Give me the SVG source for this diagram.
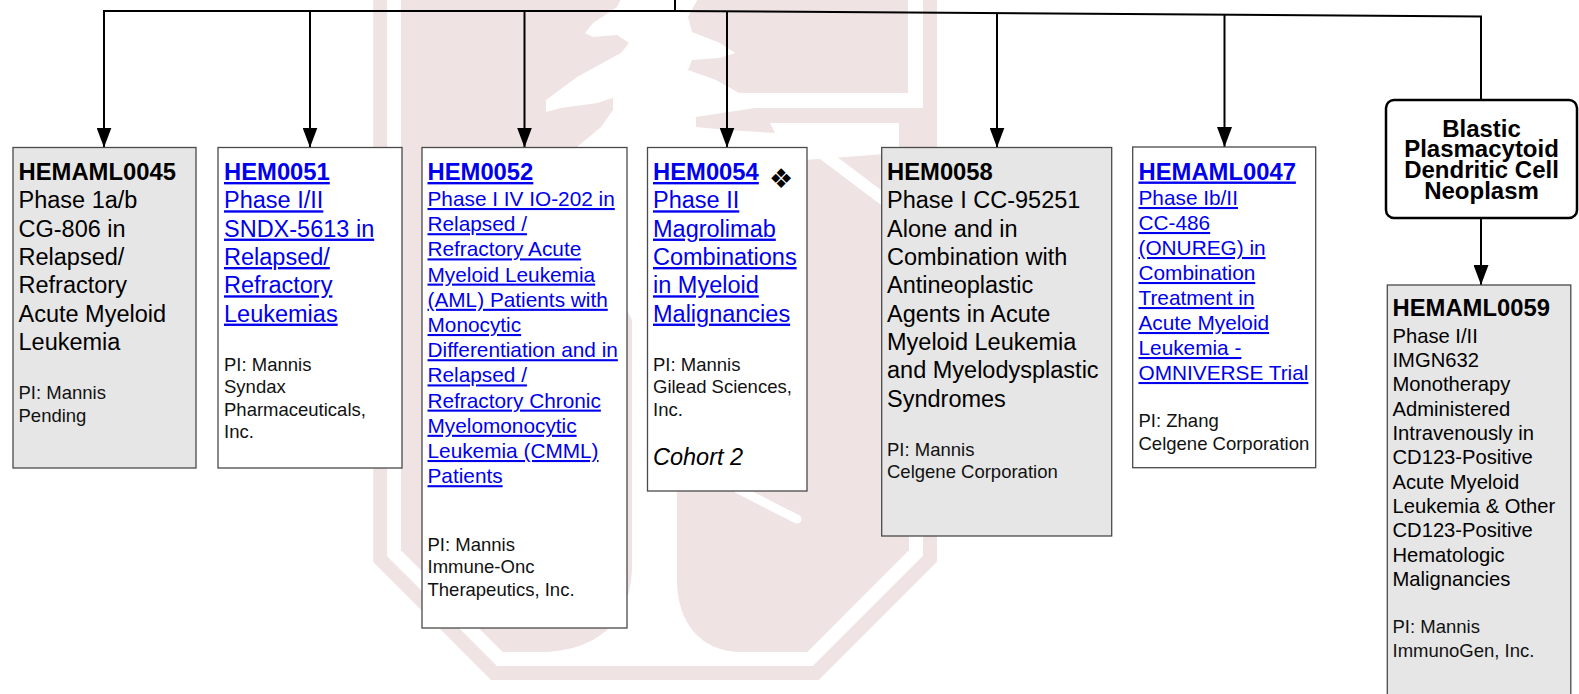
<svg xmlns="http://www.w3.org/2000/svg" width="1579" height="694" viewBox="0 0 1579 694">
<defs>
<style>
text{font-family:"Liberation Sans",Arial,sans-serif;fill:#000}
.t{font-weight:bold;font-size:23.8px}
.b1{font-size:23.5px}
.b2{font-size:20.8px}
.b3{font-size:20.2px}
.pi{font-size:18.5px;fill:#111}
.lnk{fill:#0000ee;text-decoration:underline}
.box{stroke:#4a4a4a;stroke-width:1.3}
.g{fill:#e6e6e6}
.w{fill:#fff}
.con path{fill:none;stroke:#000;stroke-width:2}
.wm{fill:#efe3e3}
</style>
<marker id="ah" markerUnits="userSpaceOnUse" markerWidth="20" markerHeight="15" refX="20" refY="7.5" orient="auto">
<path d="M0,0 L20,7.5 L0,15 z" fill="#000"/>
</marker>
</defs>
<rect width="1579" height="694" fill="#fff"/>
<g id="watermark">
<polygon class="wm" points="401,-5 401,550.3 502.7,652 807.3,652 909,550.3 909,-5"/>
<path fill="#fff" d="M623,-5 L617,7 L593,23 L585,33 L593,37 L617,35 L629,43 L621,53 L577,77 L546,100 L546,112 L561,108 L597,103 L613,98 L613,110 L601,127 L577,147 L560,180 L600,260 L632,320 L632,565 C632,622 596,652 540,652 L742,652 C700,652 677,622 677,580 L677,300 L760,215 L805,160 L899,153 L899,123 L770,123 L775,133 L727,130 L696,127 L696,117 L755,108 L923,108 L923,-5 L908,-5 L908,93 L739,93 L716,80 L688,70 L692,60 L720,58 L735,53 L720,43 L692,32 L688,17 L700,-5 Z"/>
<path d="M818,150 L895,208" stroke="#fff" stroke-width="12" fill="none"/>
<path d="M738,489 C760,500 782,512 797,519" stroke="#fff" stroke-width="9" stroke-linecap="round" fill="none"/>
<rect class="wm" x="905" y="108" width="20" height="42"/>
<path d="M380.2,-10 V559.2 L494,673 H815.8 L930,558.8 V-10" fill="none" stroke="#efe3e3" stroke-width="14" stroke-miterlimit="10"/>
</g>
<g id="connectors" class="con">
<path d="M675,-2 V11"/>
<path d="M104,11 H675 L1481,16.5" stroke-linecap="square"/>
<path d="M104,11 V147.5" marker-end="url(#ah)"/>
<path d="M310,11 V147.5" marker-end="url(#ah)"/>
<path d="M524.5,11 V147.5" marker-end="url(#ah)"/>
<path d="M727,11 V147.5" marker-end="url(#ah)"/>
<path d="M997,13.2 V147.5" marker-end="url(#ah)"/>
<path d="M1224.5,14.7 V147" marker-end="url(#ah)"/>
<path d="M1481,16.5 V100"/>
<path d="M1481,218 V285" marker-end="url(#ah)"/>
</g>
<g id="HEMAML0045">
<rect class="box g" x="13" y="147.5" width="183" height="320.5"/>
<text class="t" x="18.5" y="180">HEMAML0045</text>
<text class="b1"><tspan x="18.5" y="208.3">Phase 1a/b</tspan><tspan x="18.5" y="236.6">CG-806 in</tspan><tspan x="18.5" y="265">Relapsed/</tspan><tspan x="18.5" y="293.3">Refractory</tspan><tspan x="18.5" y="321.6">Acute Myeloid</tspan><tspan x="18.5" y="350">Leukemia</tspan></text>
<text class="pi"><tspan x="18.5" y="399.3">PI: Mannis</tspan><tspan x="18.5" y="421.7">Pending</tspan></text>
</g>
<g id="HEM0051">
<rect class="box w" x="218" y="147.5" width="184" height="320.5"/>
<text class="t lnk" x="224" y="180">HEM0051</text>
<text class="b1 lnk"><tspan x="224" y="208.3">Phase I/II</tspan><tspan x="224" y="236.6">SNDX-5613 in</tspan><tspan x="224" y="265">Relapsed/</tspan><tspan x="224" y="293.3">Refractory</tspan><tspan x="224" y="321.6">Leukemias</tspan></text>
<text class="pi"><tspan x="224" y="370.7">PI: Mannis</tspan><tspan x="224" y="393.2">Syndax</tspan><tspan x="224" y="415.7">Pharmaceuticals,</tspan><tspan x="224" y="438.2">Inc.</tspan></text>
</g>
<g id="HEM0052">
<rect class="box w" x="422" y="147.5" width="205" height="480.5"/>
<text class="t lnk" x="427.5" y="180">HEM0052</text>
<text class="b2 lnk"><tspan x="427.5" y="206">Phase I IV IO-202 in</tspan><tspan x="427.5" y="231.2">Relapsed /</tspan><tspan x="427.5" y="256.4">Refractory Acute</tspan><tspan x="427.5" y="281.6">Myeloid Leukemia</tspan><tspan x="427.5" y="306.8">(AML) Patients with</tspan><tspan x="427.5" y="332">Monocytic</tspan><tspan x="427.5" y="357.2">Differentiation and in</tspan><tspan x="427.5" y="382.4">Relapsed /</tspan><tspan x="427.5" y="407.6">Refractory Chronic</tspan><tspan x="427.5" y="432.8">Myelomonocytic</tspan><tspan x="427.5" y="458">Leukemia (CMML)</tspan><tspan x="427.5" y="483.2">Patients</tspan></text>
<text class="pi"><tspan x="427.5" y="550.8">PI: Mannis</tspan><tspan x="427.5" y="573.4">Immune-Onc</tspan><tspan x="427.5" y="596">Therapeutics, Inc.</tspan></text>
</g>
<g id="HEM0054">
<rect class="box w" x="647.5" y="147.5" width="159.5" height="343.5"/>
<text class="t lnk" x="653" y="180">HEM0054</text>
<text x="781" y="188" text-anchor="middle" style="font-family:'DejaVu Sans',sans-serif;font-size:27px">❖</text>
<text class="b1 lnk"><tspan x="653" y="208.3">Phase II</tspan><tspan x="653" y="236.6">Magrolimab</tspan><tspan x="653" y="265">Combinations</tspan><tspan x="653" y="293.3">in Myeloid</tspan><tspan x="653" y="321.6">Malignancies</tspan></text>
<text class="pi"><tspan x="653" y="370.8">PI: Mannis</tspan><tspan x="653" y="393.3">Gilead Sciences,</tspan><tspan x="653" y="415.8">Inc.</tspan></text>
<text class="b1" x="653" y="465" font-style="italic">Cohort 2</text>
</g>
<g id="HEM0058">
<rect class="box g" x="881.7" y="147.5" width="230" height="388.5"/>
<text class="t" x="887" y="179.5">HEM0058</text>
<text class="b1"><tspan x="887" y="208.3">Phase I CC-95251</tspan><tspan x="887" y="236.6">Alone and in</tspan><tspan x="887" y="265">Combination with</tspan><tspan x="887" y="293.3">Antineoplastic</tspan><tspan x="887" y="321.6">Agents in Acute</tspan><tspan x="887" y="350">Myeloid Leukemia</tspan><tspan x="887" y="378.3">and Myelodysplastic</tspan><tspan x="887" y="406.6">Syndromes</tspan></text>
<text class="pi"><tspan x="887" y="456">PI: Mannis</tspan><tspan x="887" y="478.4">Celgene Corporation</tspan></text>
</g>
<g id="HEMAML0047">
<rect class="box w" x="1132.7" y="147" width="183" height="320.7"/>
<text class="t lnk" x="1138.5" y="179.5">HEMAML0047</text>
<text class="b2 lnk"><tspan x="1138.5" y="205">Phase Ib/II</tspan><tspan x="1138.5" y="230">CC-486</tspan><tspan x="1138.5" y="255">(ONUREG) in</tspan><tspan x="1138.5" y="280">Combination</tspan><tspan x="1138.5" y="305">Treatment in</tspan><tspan x="1138.5" y="330">Acute Myeloid</tspan><tspan x="1138.5" y="355">Leukemia -</tspan><tspan x="1138.5" y="380">OMNIVERSE Trial</tspan></text>
<text class="pi"><tspan x="1138.5" y="427.3">PI: Zhang</tspan><tspan x="1138.5" y="449.5">Celgene Corporation</tspan></text>
</g>
<g id="BPDCN">
<rect x="1386" y="100" width="191" height="118" rx="8" ry="8" fill="#fff" stroke="#000" stroke-width="2.5"/>
<text font-weight="bold" font-size="24" text-anchor="middle"><tspan x="1481.5" y="136.7">Blastic</tspan><tspan x="1481.5" y="157.3">Plasmacytoid</tspan><tspan x="1481.5" y="178.3">Dendritic Cell</tspan><tspan x="1481.5" y="199.3">Neoplasm</tspan></text>
</g>
<g id="HEMAML0059">
<rect class="box g" x="1387.3" y="285" width="183.5" height="430"/>
<text class="t" x="1392.5" y="316">HEMAML0059</text>
<text class="b3"><tspan x="1392.5" y="342.6">Phase I/II</tspan><tspan x="1392.5" y="366.9">IMGN632</tspan><tspan x="1392.5" y="391.3">Monotherapy</tspan><tspan x="1392.5" y="415.6">Administered</tspan><tspan x="1392.5" y="440">Intravenously in</tspan><tspan x="1392.5" y="464.3">CD123-Positive</tspan><tspan x="1392.5" y="488.7">Acute Myeloid</tspan><tspan x="1392.5" y="513">Leukemia &amp; Other</tspan><tspan x="1392.5" y="537.4">CD123-Positive</tspan><tspan x="1392.5" y="561.7">Hematologic</tspan><tspan x="1392.5" y="586.1">Malignancies</tspan></text>
<text class="pi"><tspan x="1392.5" y="633">PI: Mannis</tspan><tspan x="1392.5" y="656.7">ImmunoGen, Inc.</tspan></text>
</g>
</svg>
